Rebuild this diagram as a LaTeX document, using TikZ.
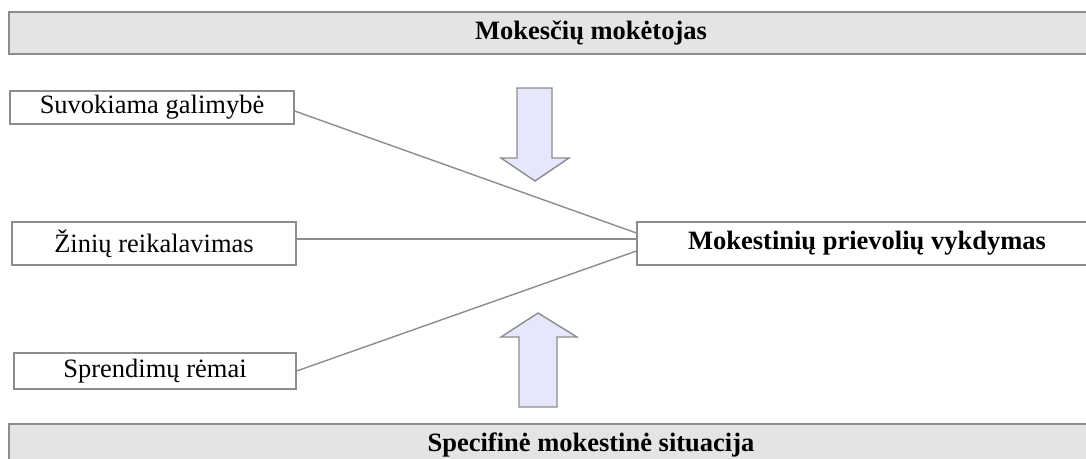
\documentclass[tikz,border=0pt]{standalone}
\usepackage{fontspec}
\setmainfont{Liberation Serif}
\usepackage{tikz}
\usetikzlibrary{calc}
\definecolor{bargray}{RGB}{228,228,228}
\definecolor{edgegray}{RGB}{140,140,140}
\definecolor{arrowfill}{RGB}{230,230,252}

\begin{document}
\begin{tikzpicture}[x=1pt,y=-1pt,
    font=\fontsize{26.5}{30}\selectfont,
    bar/.style={draw=edgegray, line width=1.5pt, fill=bargray, inner sep=0pt,
                minimum width=1164pt, minimum height=42pt, font=\fontsize{26.5}{30}\selectfont\bfseries},
    factor/.style={draw=edgegray, line width=1.2pt, fill=white, inner sep=0pt},
    link/.style={draw=edgegray, line width=1.4pt},
    blockarrow/.style={draw=edgegray, line width=1.4pt, fill=arrowfill, line join=miter}]
      \useasboundingbox (0,0) rectangle (1086,458);

      \node[bar] (payer) at (591,33) {Mokesčių mokėtojas};
      \node[bar] (situation) at (591,445) {Specifinė mokestinė situacija};

      \node[factor, minimum width=284pt, minimum height=33pt] (chance) at (152,107.5) {Suvokiama galimybė};
      \node[factor, minimum width=284pt, minimum height=43pt] (knowledge) at (154,243.5) {Žinių reikalavimas};
      \node[factor, minimum width=282pt, minimum height=36pt] (frame) at (155,371) {Sprendimų rėmai};

      \node[factor, minimum width=460pt, minimum height=43pt, font=\fontsize{26.5}{30}\selectfont\bfseries]
          (duty) at (867,243.5) {Mokestinių prievolių vykdymas};

      \draw[link] ([yshift=-3.5pt]chance.east) -- ([yshift=10.5pt]duty.west);
      \draw[link] ([yshift=4.5pt]knowledge.east) -- ([yshift=4.5pt]duty.west);
      \draw[link] (frame.east) -- ([yshift=-7.5pt]duty.west);

      % arrow from the payer
      \draw[blockarrow] (517,88) -- (552,88) -- (552,158) -- (569,158) -- (535,181)
          -- (501,158) -- (517,158) -- cycle;
      % arrow from the situation
      \draw[blockarrow] (538,313) -- (577,337) -- (557,337) -- (557,407) -- (519,407)
          -- (519,337) -- (501,337) -- cycle;
\end{tikzpicture}
\end{document}
